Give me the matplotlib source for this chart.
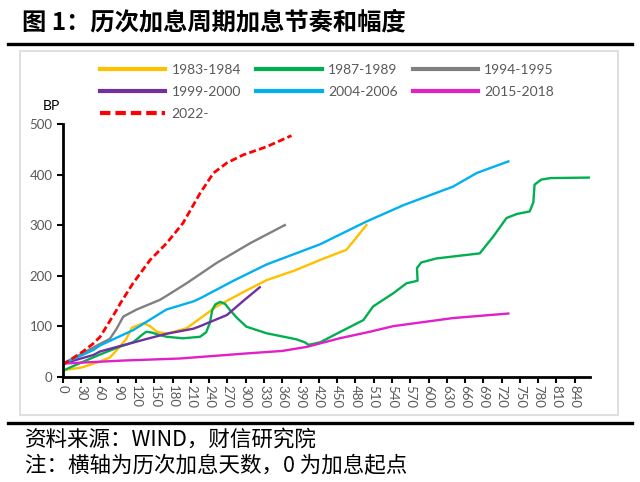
import matplotlib
matplotlib.use("Agg")
import matplotlib.pyplot as plt
from matplotlib.patches import Rectangle
from matplotlib.lines import Line2D

################################################################################
# Data (days since first hike, cumulative BP).
days_8384 = [0, 30, 61, 77, 90, 104, 113, 132, 143, 154, 170, 203, 252, 300, 334, 380, 422, 465, 476, 498]
bp_8384 = [13, 18, 30, 38, 55, 75, 97, 106, 100, 89, 85, 96, 139, 170, 191, 210, 231, 251, 267, 300]

days_8789 = [0, 30, 61, 90, 115, 121, 132, 137, 147, 154, 170, 197, 225, 235, 241, 245, 250, 258,
             266, 274, 285, 301, 334, 383, 397, 403, 422, 454, 493, 509, 542, 564, 572, 582, 581,
             588, 613, 684, 706, 728, 745, 766, 772, 774, 785, 800, 865]
bp_8789 = [12, 28, 44, 58, 68, 74, 85, 89, 87, 84, 79, 76, 79, 88, 106, 132, 143, 148,
           144, 132, 117, 99, 86, 74, 68, 63, 68, 88, 112, 139, 165, 185, 187, 190, 215,
           226, 234, 244, 277, 314, 322, 327, 345, 380, 390, 393, 394]

days_9495 = [0, 30, 61, 77, 88, 99, 121, 159, 170, 203, 252, 307, 364]
bp_9495 = [26, 45, 65, 75, 95, 119, 133, 152, 160, 185, 225, 264, 300]

days_9900 = [0, 50, 61, 132, 170, 214, 225, 269, 296, 323]
bp_9900 = [26, 43, 50, 73, 85, 95, 100, 122, 150, 177]

days_0406 = [0, 30, 50, 61, 104, 115, 159, 170, 214, 225, 280, 334, 389, 422, 498, 560, 640, 679, 731]
bp_0406 = [26, 42, 53, 62, 86, 92, 125, 133, 149, 155, 190, 222, 247, 262, 307, 340, 376, 403, 426]

days_1518 = [0, 100, 192, 301, 360, 400, 454, 504, 542, 640, 731]
bp_1518 = [26, 32, 36, 46, 51, 59, 76, 89, 100, 116, 125]

days_2022 = [0, 33, 50, 61, 88, 94, 115, 143, 170, 197, 225, 247, 269, 296, 334, 375]
bp_2022 = [24, 50, 66, 79, 132, 145, 185, 231, 264, 304, 363, 403, 423, 439, 455, 477]

x_ticks = list(range(0, 841, 30))
y_ticks = [0, 100, 200, 300, 400, 500]

################################################################################
plt.rcParams['font.family'] = ['Lato', 'Noto Sans CJK SC', 'DejaVu Sans']
grey_txt = "#595959"

fig = plt.figure(figsize=(6.4, 4.82), dpi=100)
W, H = 640.0, 482.0

# Frame decorations (title rules and chart box).
fig.add_artist(Line2D([8 / W, 632 / W], [1 - 43.7 / H] * 2, color="black", lw=2.4))
fig.add_artist(Line2D([8 / W, 632 / W], [1 - 422.7 / H] * 2, color="black", lw=2.4))
fig.add_artist(Rectangle((20 / W, 1 - 415 / H), 598 / W, 364 / H, fill=False,
                         edgecolor="#D9D9D9", lw=1.2))

fig.text(22 / W, 1 - 22 / H, "图 1：历次加息周期加息节奏和幅度", fontsize=17.5,
         fontweight="bold", family=["Noto Sans CJK SC"], va="center", ha="left")
fig.text(25 / W, 1 - 440 / H, "资料来源：WIND，财信研究院", fontsize=15.5,
         family=["Noto Sans CJK SC"], va="center", ha="left")
fig.text(25 / W, 1 - 466 / H, "注：横轴为历次加息天数，0 为加息起点", fontsize=15.5,
         family=["Noto Sans CJK SC"], va="center", ha="left")

ax = fig.add_axes([63 / W, 1 - 376.7 / H, (590 - 63) / W, (376.7 - 124) / H])

lw = 1.7
l1, = ax.plot(days_8384, bp_8384, color="#FFC000", lw=lw, label="1983-1984")
l2, = ax.plot(days_8789, bp_8789, color="#00B050", lw=lw, label="1987-1989")
l3, = ax.plot(days_9495, bp_9495, color="#808080", lw=lw, label="1994-1995")
l4, = ax.plot(days_9900, bp_9900, color="#7030A0", lw=lw, label="1999-2000")
l5, = ax.plot(days_0406, bp_0406, color="#00B0F0", lw=lw, label="2004-2006")
l6, = ax.plot(days_1518, bp_1518, color="#E020C8", lw=lw, label="2015-2018")
l7, = ax.plot(days_2022, bp_2022, color="#FF0000", lw=2.0, ls=(0, (2.5, 1.2)), label="2022-")

ax.set_xlim(0, 865)
ax.set_ylim(0, 500)
ax.set_xticks(x_ticks)
ax.set_xticklabels([str(t) for t in x_ticks], rotation=-90)
ax.set_yticks(y_ticks)
ax.tick_params(axis="both", colors="black", labelcolor=grey_txt, labelsize=9.5,
               width=1.5, length=4, direction="out")
ax.tick_params(axis="x", pad=2)
for s in ["top", "right"]:
    ax.spines[s].set_visible(False)
for s in ["left", "bottom"]:
    ax.spines[s].set_linewidth(2)
ax.text(-0.005, 1.07, "BP", transform=ax.transAxes, ha="right", va="center",
        fontsize=10, color="black")

# Legend filled row by row, as in the reference.
handles = [l1, l4, l7, l2, l5, l3, l6]
leg = ax.legend(handles=handles, labels=[h.get_label() for h in handles], ncol=3,
                loc="upper left", bbox_to_anchor=(100 / W, 1 - 64 / H),
                bbox_transform=fig.transFigure, frameon=False, fontsize=10,
                handlelength=4.7, handletextpad=0.45, columnspacing=1.1,
                labelspacing=0.72, borderpad=0, borderaxespad=0)
for t in leg.get_texts():
    t.set_color(grey_txt)
for h in leg.get_lines():
    h.set_linewidth(3)

fig.savefig("out.png", dpi=100)
